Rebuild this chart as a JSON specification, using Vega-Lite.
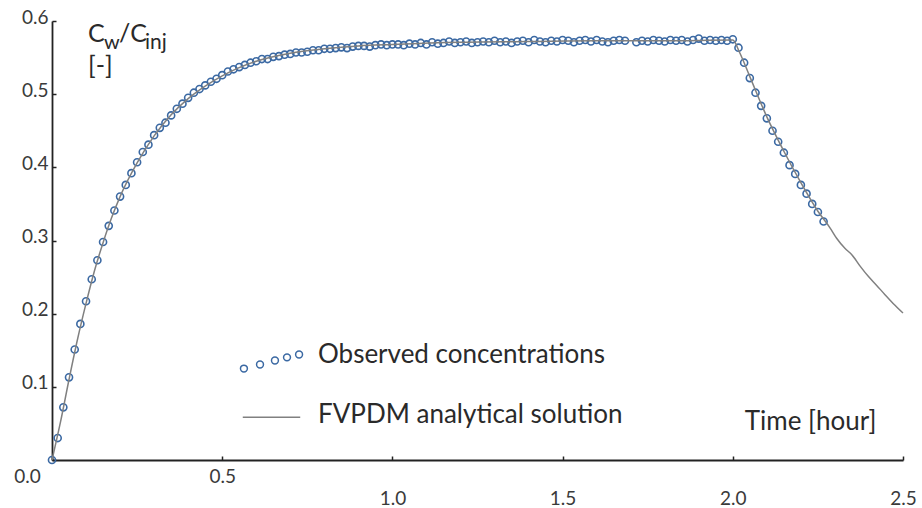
{
  "$schema": "https://vega.github.io/schema/vega-lite/v6.json",
  "width": 851,
  "height": 439,
  "autosize": {"type": "none"},
  "padding": {"left": 52, "top": 21, "right": 19, "bottom": 48},
  "background": "white",
  "config": {
    "view": {"stroke": null},
    "font": "Lato",
    "axis": {
      "grid": false,
      "domainColor": "#222222",
      "domainWidth": 1.8,
      "tickColor": "#222222",
      "tickWidth": 1.5,
      "tickSize": -4,
      "labelFont": "Lato",
      "labelFontWeight": 400,
      "labelFontSize": 19,
      "labelColor": "#3a3a3a"
    },
    "legend": {
      "orient": "none",
      "legendX": 190,
      "legendY": 304,
      "padding": 0,
      "title": null,
      "symbolSize": 3300,
      "symbolStrokeWidth": 1.5,
      "symbolOpacity": 1,
      "labelFont": "Lato",
      "labelFontWeight": 400,
      "labelFontSize": 26,
      "labelColor": "#2a2a2a",
      "labelOffset": 17,
      "labelLimit": 400
    }
  },
  "datasets": {
    "obs": [
      {"t": 0, "c": 0},
      {"t": 0.0167, "c": 0.030},
      {"t": 0.0333, "c": 0.072},
      {"t": 0.05, "c": 0.113},
      {"t": 0.0667, "c": 0.151},
      {"t": 0.0833, "c": 0.186},
      {"t": 0.1, "c": 0.217},
      {"t": 0.1167, "c": 0.247},
      {"t": 0.1333, "c": 0.273},
      {"t": 0.15, "c": 0.298},
      {"t": 0.1667, "c": 0.320},
      {"t": 0.1833, "c": 0.341},
      {"t": 0.2, "c": 0.360},
      {"t": 0.2167, "c": 0.376},
      {"t": 0.2333, "c": 0.392},
      {"t": 0.25, "c": 0.407},
      {"t": 0.2667, "c": 0.421},
      {"t": 0.2833, "c": 0.431},
      {"t": 0.3, "c": 0.444},
      {"t": 0.3167, "c": 0.454},
      {"t": 0.3333, "c": 0.461},
      {"t": 0.35, "c": 0.471},
      {"t": 0.3667, "c": 0.480},
      {"t": 0.3833, "c": 0.487},
      {"t": 0.4, "c": 0.495},
      {"t": 0.4167, "c": 0.502},
      {"t": 0.4333, "c": 0.507},
      {"t": 0.45, "c": 0.512},
      {"t": 0.4667, "c": 0.517},
      {"t": 0.4833, "c": 0.521},
      {"t": 0.5, "c": 0.526},
      {"t": 0.5167, "c": 0.531},
      {"t": 0.5333, "c": 0.534},
      {"t": 0.55, "c": 0.537},
      {"t": 0.5667, "c": 0.540},
      {"t": 0.5833, "c": 0.543},
      {"t": 0.6, "c": 0.545},
      {"t": 0.6167, "c": 0.548},
      {"t": 0.6333, "c": 0.548},
      {"t": 0.65, "c": 0.551},
      {"t": 0.6667, "c": 0.552},
      {"t": 0.6833, "c": 0.554},
      {"t": 0.7, "c": 0.555},
      {"t": 0.7167, "c": 0.557},
      {"t": 0.7333, "c": 0.557},
      {"t": 0.75, "c": 0.558},
      {"t": 0.7667, "c": 0.560},
      {"t": 0.7833, "c": 0.560},
      {"t": 0.8, "c": 0.562},
      {"t": 0.8167, "c": 0.562},
      {"t": 0.8333, "c": 0.563},
      {"t": 0.85, "c": 0.564},
      {"t": 0.8667, "c": 0.563},
      {"t": 0.8833, "c": 0.565},
      {"t": 0.9, "c": 0.566},
      {"t": 0.9167, "c": 0.566},
      {"t": 0.9333, "c": 0.565},
      {"t": 0.95, "c": 0.567},
      {"t": 0.9667, "c": 0.568},
      {"t": 0.9833, "c": 0.567},
      {"t": 1.0, "c": 0.568},
      {"t": 1.0167, "c": 0.568},
      {"t": 1.0333, "c": 0.567},
      {"t": 1.05, "c": 0.569},
      {"t": 1.0667, "c": 0.568},
      {"t": 1.0833, "c": 0.570},
      {"t": 1.1, "c": 0.568},
      {"t": 1.1167, "c": 0.571},
      {"t": 1.1333, "c": 0.569},
      {"t": 1.15, "c": 0.570},
      {"t": 1.1667, "c": 0.572},
      {"t": 1.1833, "c": 0.570},
      {"t": 1.2, "c": 0.571},
      {"t": 1.2167, "c": 0.572},
      {"t": 1.2333, "c": 0.570},
      {"t": 1.25, "c": 0.571},
      {"t": 1.2667, "c": 0.572},
      {"t": 1.2833, "c": 0.571},
      {"t": 1.3, "c": 0.573},
      {"t": 1.3167, "c": 0.571},
      {"t": 1.3333, "c": 0.572},
      {"t": 1.35, "c": 0.570},
      {"t": 1.3667, "c": 0.572},
      {"t": 1.3833, "c": 0.573},
      {"t": 1.4, "c": 0.571},
      {"t": 1.4167, "c": 0.574},
      {"t": 1.4333, "c": 0.572},
      {"t": 1.45, "c": 0.571},
      {"t": 1.4667, "c": 0.573},
      {"t": 1.4833, "c": 0.572},
      {"t": 1.5, "c": 0.574},
      {"t": 1.5167, "c": 0.573},
      {"t": 1.5333, "c": 0.571},
      {"t": 1.55, "c": 0.573},
      {"t": 1.5667, "c": 0.574},
      {"t": 1.5833, "c": 0.572},
      {"t": 1.6, "c": 0.574},
      {"t": 1.6167, "c": 0.572},
      {"t": 1.6333, "c": 0.571},
      {"t": 1.65, "c": 0.573},
      {"t": 1.6667, "c": 0.574},
      {"t": 1.6833, "c": 0.573},
      {"t": 1.7167, "c": 0.571},
      {"t": 1.7333, "c": 0.573},
      {"t": 1.75, "c": 0.572},
      {"t": 1.7667, "c": 0.574},
      {"t": 1.7833, "c": 0.573},
      {"t": 1.8, "c": 0.572},
      {"t": 1.8167, "c": 0.574},
      {"t": 1.8333, "c": 0.573},
      {"t": 1.85, "c": 0.574},
      {"t": 1.8667, "c": 0.572},
      {"t": 1.8833, "c": 0.574},
      {"t": 1.9, "c": 0.576},
      {"t": 1.9167, "c": 0.573},
      {"t": 1.9333, "c": 0.574},
      {"t": 1.95, "c": 0.573},
      {"t": 1.9667, "c": 0.574},
      {"t": 1.9833, "c": 0.573},
      {"t": 2.0, "c": 0.575},
      {"t": 2.0167, "c": 0.5635},
      {"t": 2.0333, "c": 0.543},
      {"t": 2.05, "c": 0.522},
      {"t": 2.0667, "c": 0.502},
      {"t": 2.0833, "c": 0.484},
      {"t": 2.1, "c": 0.467},
      {"t": 2.1167, "c": 0.450},
      {"t": 2.1333, "c": 0.435},
      {"t": 2.15, "c": 0.420},
      {"t": 2.1667, "c": 0.403},
      {"t": 2.1833, "c": 0.391},
      {"t": 2.2, "c": 0.376},
      {"t": 2.2167, "c": 0.364},
      {"t": 2.2333, "c": 0.350},
      {"t": 2.25, "c": 0.339},
      {"t": 2.2667, "c": 0.326}
    ],
    "fit": [
      {"t": 0, "c": 0},
      {"t": 0.025, "c": 0.052},
      {"t": 0.05, "c": 0.110},
      {"t": 0.075, "c": 0.165},
      {"t": 0.1, "c": 0.214},
      {"t": 0.125, "c": 0.259},
      {"t": 0.15, "c": 0.297},
      {"t": 0.175, "c": 0.331},
      {"t": 0.2, "c": 0.360},
      {"t": 0.25, "c": 0.406},
      {"t": 0.3, "c": 0.443},
      {"t": 0.35, "c": 0.472},
      {"t": 0.4, "c": 0.494},
      {"t": 0.45, "c": 0.511},
      {"t": 0.5, "c": 0.525},
      {"t": 0.6, "c": 0.545},
      {"t": 0.7, "c": 0.556},
      {"t": 0.8, "c": 0.562},
      {"t": 0.9, "c": 0.566},
      {"t": 1.0, "c": 0.568},
      {"t": 1.2, "c": 0.571},
      {"t": 1.4, "c": 0.572},
      {"t": 1.6, "c": 0.573},
      {"t": 1.8, "c": 0.573},
      {"t": 2.0, "c": 0.574},
      {"t": 2.02, "c": 0.557},
      {"t": 2.05, "c": 0.524},
      {"t": 2.1, "c": 0.469},
      {"t": 2.15, "c": 0.422},
      {"t": 2.2, "c": 0.379},
      {"t": 2.25, "c": 0.340},
      {"t": 2.286, "c": 0.317},
      {"t": 2.305, "c": 0.303},
      {"t": 2.33, "c": 0.289},
      {"t": 2.349, "c": 0.281},
      {"t": 2.374, "c": 0.265},
      {"t": 2.398, "c": 0.251},
      {"t": 2.422, "c": 0.239},
      {"t": 2.447, "c": 0.226},
      {"t": 2.471, "c": 0.214},
      {"t": 2.5, "c": 0.201}
    ],
    "series": [
      {"series": "Observed concentrations"},
      {"series": "FVPDM analytical solution"}
    ]
  },
  "layer": [
    {
      "data": {"name": "obs"},
      "mark": {"type": "point", "shape": "circle", "filled": false, "size": 50, "strokeWidth": 1.6, "opacity": 1, "color": "#3b69a3"},
      "encoding": {
        "x": {
          "field": "t", "type": "quantitative",
          "scale": {"domain": [0, 2.5], "nice": false, "zero": true},
          "axis": {
            "values": [0, 0.5, 1, 1.5, 2, 2.5],
            "format": ".1f",
            "labelFlush": false,
            "labelPadding": {"condition": {"test": "datum.value == 0 || datum.value == 0.5", "value": 11}, "value": 33},
            "labelOffset": {"condition": {"test": "datum.value == 0", "value": -25}, "value": 0},
            "title": "Time [hour]",
            "titleFont": "Lato",
            "titleFontWeight": 400,
            "titleFontSize": 26,
            "titleColor": "#2a2a2a",
            "titleAlign": "right",
            "titleAnchor": null,
            "titleBaseline": "alphabetic",
            "titleX": 824,
            "titleY": -31
          }
        },
        "y": {
          "field": "c", "type": "quantitative",
          "scale": {"domain": [0, 0.6], "nice": false},
          "axis": {
            "values": [0, 0.1, 0.2, 0.3, 0.4, 0.5, 0.6],
            "format": ".1f",
            "labelExpr": "datum.value == 0 ? '' : datum.label",
            "labelPadding": 8,
            "labelOffset": -4,
            "title": null
          }
        }
      }
    },
    {
      "data": {"name": "fit"},
      "mark": {"type": "line", "strokeWidth": 1.5, "interpolate": "monotone", "color": "#808080"},
      "encoding": {
        "x": {"field": "t", "type": "quantitative"},
        "y": {"field": "c", "type": "quantitative"}
      }
    },
    {
      "data": {"name": "series"},
      "transform": [{"filter": "datum.series == 'none'"}],
      "mark": {"type": "point", "filled": false, "strokeWidth": 1.5, "opacity": 1},
      "encoding": {
        "color": {
          "field": "series", "type": "nominal",
          "scale": {"domain": ["Observed concentrations", "FVPDM analytical solution"], "range": ["#3b69a3", "#808080"]},
          "legend": {"rowPadding": 9}
        },
        "shape": {
          "field": "series", "type": "nominal",
          "scale": {
            "domain": ["Observed concentrations", "FVPDM analytical solution"],
            "range": [
              "M-0.84,0.49A0.12,0.12,0,1,1,-1.08,0.49A0.12,0.12,0,1,1,-0.84,0.49ZM-0.28,0.35A0.12,0.12,0,1,1,-0.52,0.35A0.12,0.12,0,1,1,-0.28,0.35ZM0.24,0.21A0.12,0.12,0,1,1,0,0.21A0.12,0.12,0,1,1,0.24,0.21ZM0.66,0.1A0.12,0.12,0,1,1,0.42,0.1A0.12,0.12,0,1,1,0.66,0.1ZM1.08,0A0.12,0.12,0,1,1,0.84,0A0.12,0.12,0,1,1,1.08,0Z",
              "M-1,0.1L1,0.1"
            ]
          },
          "legend": {"rowPadding": 9}
        }
      }
    },
    {
      "data": {"values": [{}]},
      "mark": {"type": "text", "text": "C", "font": "Lato", "fontWeight": 400, "fontSize": 25, "color": "#2a2a2a", "align": "left", "baseline": "alphabetic"},
      "encoding": {"x": {"datum": 0.106}, "y": {"datum": 0.571}}
    },
    {
      "data": {"values": [{}]},
      "mark": {"type": "text", "text": "w", "font": "Lato", "fontWeight": 400, "fontSize": 20, "color": "#2a2a2a", "align": "left", "baseline": "alphabetic", "dx": 16, "dy": 7},
      "encoding": {"x": {"datum": 0.106}, "y": {"datum": 0.571}}
    },
    {
      "data": {"values": [{}]},
      "mark": {"type": "text", "text": "/C", "font": "Lato", "fontWeight": 400, "fontSize": 25, "color": "#2a2a2a", "align": "left", "baseline": "alphabetic", "dx": 31},
      "encoding": {"x": {"datum": 0.106}, "y": {"datum": 0.571}}
    },
    {
      "data": {"values": [{}]},
      "mark": {"type": "text", "text": "inj", "font": "Lato", "fontWeight": 400, "fontSize": 21, "color": "#2a2a2a", "align": "left", "baseline": "alphabetic", "dx": 57, "dy": 7},
      "encoding": {"x": {"datum": 0.106}, "y": {"datum": 0.571}}
    },
    {
      "data": {"values": [{}]},
      "mark": {"type": "text", "text": "[-]", "font": "Lato", "fontWeight": 400, "fontSize": 25, "color": "#2a2a2a", "align": "left", "baseline": "alphabetic", "dy": 32},
      "encoding": {"x": {"datum": 0.106}, "y": {"datum": 0.571}}
    }
  ]
}
